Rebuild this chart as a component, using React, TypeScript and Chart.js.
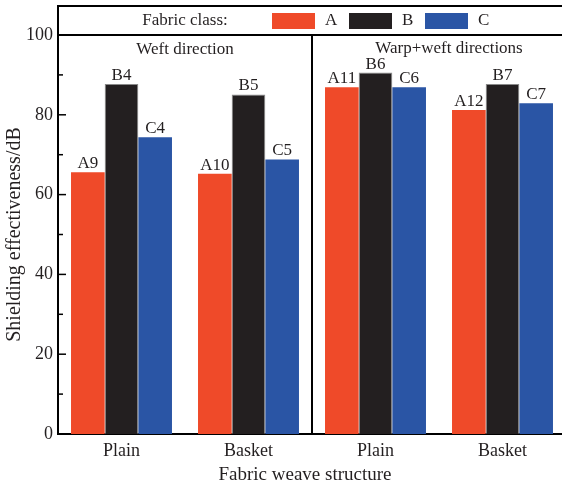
import React, { useEffect, useRef } from 'react';
import { Chart, registerables } from 'chart.js';

Chart.register(...registerables);

const categories = ['Plain', 'Basket', 'Plain', 'Basket'];
const seriesNames = ['A', 'B', 'C'];
const valuesA = [65.6, 65.2, 86.9, 81.2];
const valuesB = [87.7, 85.1, 90.6, 87.7];
const valuesC = [74.4, 68.8, 86.9, 82.9];
const barLabelsA = ['A9', 'A10', 'A11', 'A12'];
const barLabelsB = ['B4', 'B5', 'B6', 'B7'];
const barLabelsC = ['C4', 'C5', 'C6', 'C7'];
const panelTitles = ['Weft direction', 'Warp+weft directions'];
const legendTitle = 'Fabric class:';
const yMin = 0;
const yMax = 100;
const yStep = 20;
const yMinorStep = 10;
const xTitle = 'Fabric weave structure';
const yTitle = 'Shielding effectiveness/dB';

const colors = ['#EF4A29', '#231F20', '#2A55A5'];
const FONT = "'Liberation Serif', 'Times New Roman', serif";

const overlayPlugin = {
  id: 'overlay',
  afterDatasetsDraw(chart: any) {
    const ctx = chart.ctx;
    const labelSets = [barLabelsA, barLabelsB, barLabelsC];
    ctx.save();
    ctx.fillStyle = '#231F20';
    ctx.font = `17px ${FONT}`;
    ctx.textAlign = 'center';
    ctx.textBaseline = 'alphabetic';
    labelSets.forEach((labels, di) => {
      const meta = chart.getDatasetMeta(di);
      meta.data.forEach((bar: any, i: number) => {
        ctx.fillText(labels[i], bar.x, bar.y - 4);
      });
    });
    ctx.restore();
  },
  afterDraw(chart: any) {
    const ctx = chart.ctx;
    const area = chart.chartArea;
    const xs = chart.scales.x;
    const ys = chart.scales.y;
    ctx.save();
    ctx.strokeStyle = '#000';
    ctx.fillStyle = '#000';
    // inward ticks
    ctx.lineWidth = 1.5;
    for (let v = yMin; v <= yMax; v += yMinorStep) {
      const y = ys.getPixelForValue(v);
      const major = v % yStep === 0;
      ctx.beginPath();
      ctx.moveTo(area.left, y);
      ctx.lineTo(area.left + (major ? 8 : 5), y);
      ctx.stroke();
    }
    ctx.lineWidth = 2;
    // divider
    const dx = Math.round((xs.getPixelForValue(1) + xs.getPixelForValue(2)) / 2);
    ctx.beginPath();
    ctx.moveTo(dx, area.top);
    ctx.lineTo(dx, area.bottom);
    ctx.stroke();
    // top border of plot & legend box
    const boxTop = 6;
    ctx.beginPath();
    ctx.moveTo(area.left - 1, area.top);
    ctx.lineTo(chart.width, area.top);
    ctx.moveTo(area.left - 1, boxTop);
    ctx.lineTo(chart.width, boxTop);
    ctx.moveTo(area.left, boxTop);
    ctx.lineTo(area.left, area.top);
    ctx.stroke();
    // panel titles
    ctx.font = `17px ${FONT}`;
    ctx.textAlign = 'center';
    ctx.textBaseline = 'middle';
    ctx.fillStyle = '#231F20';
    ctx.fillText(panelTitles[0], (area.left + dx) / 2, 50);
    ctx.fillText(panelTitles[1], (dx + area.right) / 2 + 10, 49);
    // x-axis title
    ctx.font = `19px ${FONT}`;
    ctx.fillText(xTitle, (area.left + area.right) / 2 - 7, 475);
    // legend
    ctx.font = `17px ${FONT}`;
    const ly = (boxTop + area.top) / 2 + 0.5;
    ctx.fillText(legendTitle, (area.left + dx) / 2, ly);
    const swX = [272, 349, 425];
    seriesNames.forEach((name, i) => {
      ctx.fillStyle = colors[i];
      ctx.fillRect(swX[i], ly - 8, 43, 16);
      ctx.fillStyle = '#231F20';
      ctx.textAlign = 'left';
      ctx.fillText(name, swX[i] + 53, ly);
    });
    ctx.restore();
  },
};

export default function App() {
  const ref = useRef<HTMLCanvasElement | null>(null);
  useEffect(() => {
    if (!ref.current) return;
    const chart = new Chart(ref.current, {
      type: 'bar',
      data: {
        labels: categories,
        datasets: [valuesA, valuesB, valuesC].map((vals, i) => ({
          label: seriesNames[i],
          data: vals,
          backgroundColor: colors[i],
          borderColor: i === 1 ? '#8a8a8a' : colors[i],
          borderWidth: i === 1 ? 1 : 0,
          borderSkipped: 'start',
          categoryPercentage: 0.795,
          barPercentage: 1.0,
        })),
      },
      options: {
        responsive: false,
        animation: false,
        devicePixelRatio: 1,
        layout: { padding: { top: 35, right: 4, left: 0, bottom: 0 } },
        plugins: {
          legend: { display: false },
          tooltip: { enabled: false },
          title: { display: false },
        },
        scales: {
          x: {
            grid: { display: false, drawTicks: false },
            border: { display: true, width: 2, color: '#000' },
            ticks: { color: '#231F20', font: { family: FONT, size: 18 }, padding: 6, maxRotation: 0, autoSkip: false },
            title: { display: false },
            afterFit: (s: any) => { s.height = 52; },
          },
          y: {
            min: yMin,
            max: yMax,
            grid: { display: false, drawTicks: false },
            border: { display: true, width: 2, color: '#000' },
            ticks: { stepSize: yStep, color: '#231F20', font: { family: FONT, size: 18 }, padding: 5 },
            title: { display: true, text: yTitle, color: '#231F20', font: { family: FONT, size: 20 }, padding: { top: 3, bottom: 0 } },
            afterFit: (s: any) => { s.width = 58; },
          },
        },
      },
      plugins: [overlayPlugin],
    });
    return () => chart.destroy();
  }, []);
  return (
    <div style={{ position: 'absolute', left: 0, top: 0, width: 562, height: 486, overflow: 'hidden', background: '#fff' }}>
      <canvas ref={ref} width={570} height={486} style={{ width: 570, height: 486, display: 'block' }} />
    </div>
  );
}
